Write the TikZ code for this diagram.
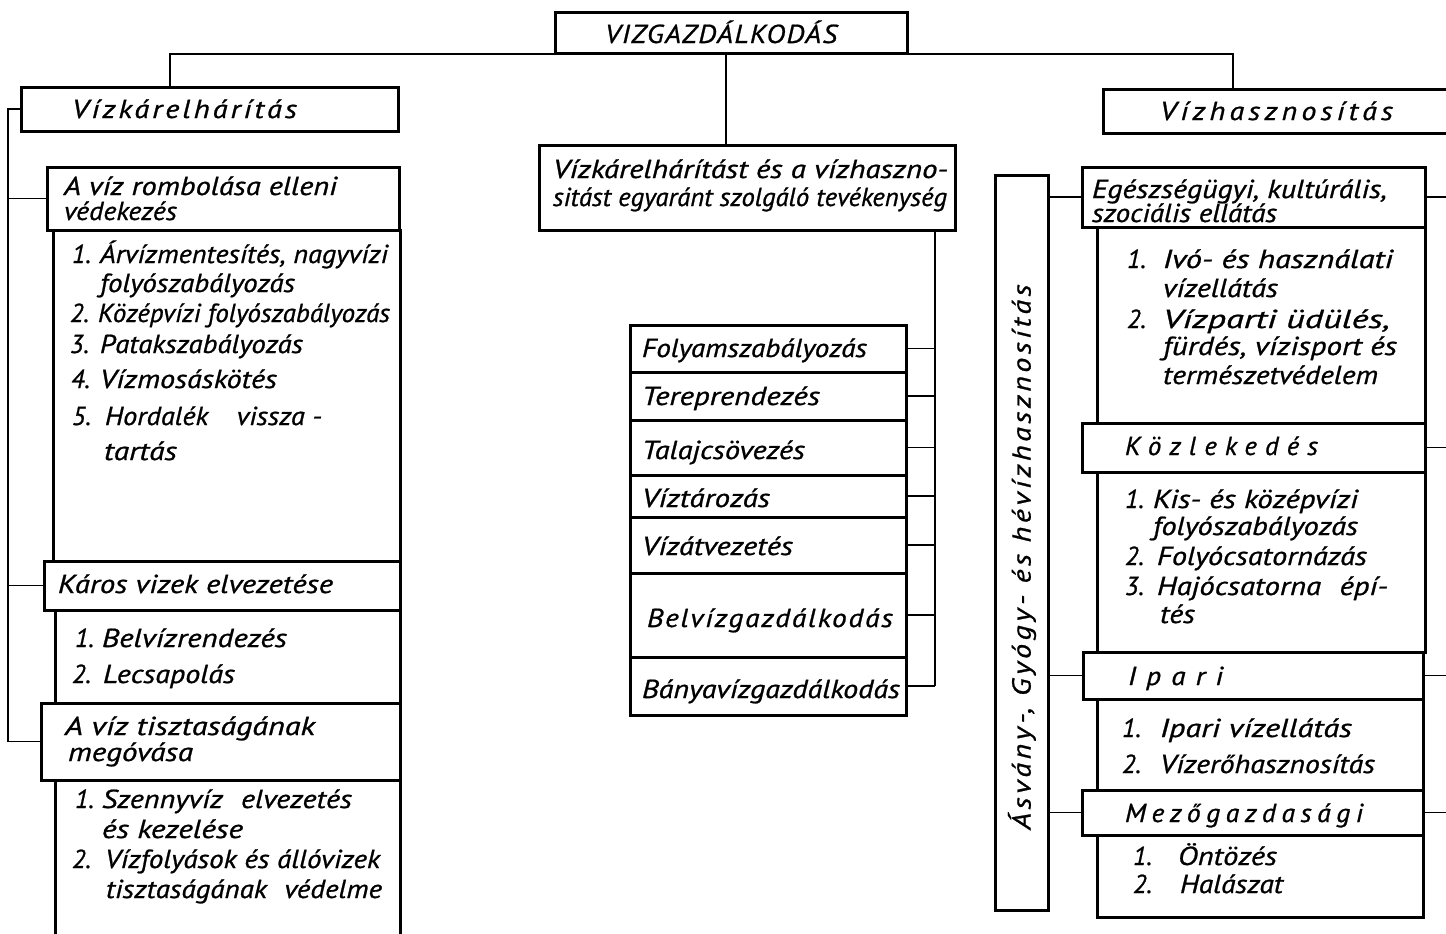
\documentclass[tikz,border=0pt]{standalone}
\usepackage{fontspec}
\usepackage{graphicx}
\usetikzlibrary{fit}
\newfontfamily\hand{PT Sans Italic}[FakeBold=0.8]
\newcommand\hf{\hand\fontsize{13}{15}\selectfont}
\newdimen\upx \upx=0.5pt
\newcommand\W[2]{\resizebox{#1\upx}{\height}{#2}}
\newcommand\LSW[3]{\resizebox{#2\upx}{\height}{\addfontfeatures{LetterSpace=#1}#3}}
\newcommand\txt[5]{\node[lbl] (#1) at (#2,#3) {\W{#4}{#5}};}
\newcommand\stx[6]{\node[lbl] (#1) at (#2,#3) {\LSW{#4}{#5}{#6}};}
\newcommand\itm[7]{\node[lbl] (#1n) at (#2,#4) {#5}; \node[lbl] (#1) at (#3,#4) {\W{#7}{#6}};}
\newcommand\bx[5]{\node[box, fit={(#2,#3)(#4,#5)}] (#1) {};}
\begin{document}
\begin{tikzpicture}[x=0.5pt,y=-0.5pt,
  box/.style={draw,line width=1.5pt,inner sep=0pt,outer sep=0pt},
  lbl/.style={anchor=base west,inner sep=0pt,outer sep=0pt,font=\hf},
  conn/.style={line width=0.75pt}]
\useasboundingbox (0,0) rectangle (1446,933);
\fill[white] (0,0) rectangle (1446,933);
\clip (0,0) rectangle (1446,933);

% ---------- boxes ----------
\bx{top}{555}{12}{907}{53}
\bx{vk}{21}{87}{398}{131}
\bx{l1}{53}{230}{400}{561}
\bx{romb}{47}{167}{399}{230}
\bx{l2}{55}{610}{400}{703}
\bx{karos}{44}{561}{400}{610}
\node[inner sep=0pt,outer sep=0pt,fit={(55,780)(400,945)}] (l3) {};
\draw[line width=1.5pt] (l3.north west) -- (l3.south west) (l3.north east) -- (l3.south east);
\bx{tisz}{41}{703}{400}{780}

\bx{mid}{539}{145}{955}{230}
\bx{s1}{630}{325}{906}{372}
\bx{s2}{630}{372}{906}{420}
\bx{s3}{630}{420}{906}{475}
\bx{s4}{630}{475}{906}{517}
\bx{s5}{630}{517}{906}{573}
\bx{s6}{630}{573}{906}{657}
\bx{s7}{630}{657}{906}{715}

\bx{hasz}{1103}{89}{1470}{133}
\bx{vb}{995}{175}{1048}{910}
\bx{r1}{1097}{227}{1425}{423}
\bx{r2}{1097}{472}{1425}{652}
\bx{r3}{1097}{699}{1423}{790}
\bx{r4}{1097}{835}{1423}{917}
\bx{eg}{1082}{167}{1425}{227}
\bx{kz}{1082}{423}{1425}{472}
\bx{ip}{1083}{652}{1423}{699}
\bx{mz}{1082}{790}{1423}{835}

% ---------- connectors ----------
\coordinate (tl) at (170,54);
\coordinate (tr) at (1233,54);
\coordinate (tc) at (726,54);
\draw[conn] (vk.north -| tl) -- (tl) -- (tr) -- (hasz.north -| tr);
\draw[conn] (tc) -- (mid.north -| tc);

\coordinate (bus) at (8,0);
\draw[conn] (vk.west) -- (vk.west -| bus) -- (tisz.west -| bus) -- (tisz.west);
\draw[conn] (romb.west) -- (romb.west -| bus);
\draw[conn] (karos.west) -- (karos.west -| bus);

\coordinate (mv) at (935,0);
\draw[conn] (mid.south -| mv) -- (s7.east -| mv);
\foreach \s in {s1,s2,s3,s4,s5,s6,s7} \draw[conn] (\s.east) -- (\s.east -| mv);

\foreach \n in {eg,ip,mz} \draw[conn] (vb.east |- \n.west) -- (\n.west);
\coordinate (edge) at (1446,0);
\foreach \n in {eg,kz,ip,mz} \draw[conn] (\n.east) -- (\n.east -| edge);

% ---------- texts: centre ----------
\stx{ttop}{605}{43}{5}{232}{VIZGAZDÁLKODÁS}
\txt{tmid1}{553}{178}{395}{Vízkárelhárítást és a vízhaszno-}
\txt{tmid2}{553}{206}{394}{sitást egyaránt szolgáló tevékenység}
\txt{ts1}{642}{357}{225}{Folyamszabályozás}
\txt{ts2}{642}{405}{178}{Tereprendezés}
\txt{ts3}{642}{459}{163}{Talajcsövezés}
\txt{ts4}{642}{507}{128}{Víztározás}
\txt{ts5}{642}{555}{151}{Vízátvezetés}
\stx{ts6}{647}{627}{6}{246}{Belvízgazdálkodás}
\txt{ts7}{642}{698}{258}{Bányavízgazdálkodás}

% ---------- texts: left ----------
\stx{tvk}{72}{118}{10}{225}{Vízkárelhárítás}
\txt{tromb1}{64}{195}{273}{A víz rombolása elleni}
\txt{tromb2}{64}{220}{113}{védekezés}
\itm{a1}{72}{100}{263}{1.}{Árvízmentesítés, nagyvízi}{288}
\txt{a1b}{100}{292}{195}{folyószabályozás}
\itm{a2}{70}{98}{322}{2.}{Középvízi folyószabályozás}{292}
\itm{a3}{70}{100}{353}{3.}{Patakszabályozás}{203}
\itm{a4}{71}{100}{388}{4.}{Vízmosáskötés}{177}
\itm{a5}{72}{105}{425}{5.}{Hordalék\hspace{1em}vissza -}{217}
\txt{a5b}{104}{460}{73}{tartás}
\txt{tkaros}{58}{593}{275}{Káros vizek elvezetése}
\itm{b1}{75}{102}{647}{1.}{Belvízrendezés}{185}
\itm{b2}{72}{103}{683}{2.}{Lecsapolás}{132}
\txt{ttisz1}{65}{735}{250}{A víz tisztaságának}
\txt{ttisz2}{68}{761}{125}{megóvása}
\itm{c1}{75}{102}{808}{1.}{Szennyvíz\hspace{0.6em}elvezetés}{250}
\txt{c1b}{102}{838}{141}{és kezelése}
\itm{c2}{72}{105}{868}{2.}{Vízfolyások és állóvizek}{275}
\txt{c2b}{106}{898}{276}{tisztaságának\hspace{0.6em}védelme}

% ---------- texts: right ----------
\stx{thasz}{1160}{120}{14}{233}{Vízhasznosítás}
\node[font=\hf,rotate=90,inner sep=0pt] (trot) at (1022,557) {\LSW{12}{545}{Ásvány-, Gyógy- és hévízhasznosítás}};
\txt{teg1}{1092}{198}{295}{Egészségügyi, kultúrális,}
\txt{teg2}{1092}{222}{185}{szociális ellátás}
\itm{d1}{1127}{1163}{268}{1.}{Ivó- és használati}{230}
\txt{d1b}{1163}{297}{115}{vízellátás}
\itm{d2}{1127}{1163}{328}{2.}{Vízparti üdülés,}{227}
\txt{d2b}{1163}{355}{234}{fürdés, vízisport és}
\txt{d2c}{1163}{384}{215}{természetvédelem}
\stx{tkz}{1125}{455}{30}{193}{Közlekedés}
\itm{e1}{1125}{1153}{508}{1.}{Kis- és középvízi}{205}
\txt{e1b}{1153}{535}{205}{folyószabályozás}
\itm{e2}{1125}{1157}{565}{2.}{Folyócsatornázás}{210}
\itm{e3}{1125}{1157}{595}{3.}{Hajócsatorna\hspace{0.6em}épí-}{231}
\txt{e3b}{1160}{623}{35}{tés}
\stx{tip}{1128}{685}{35}{95}{Ipari}
\itm{f1}{1122}{1160}{737}{1.}{Ipari vízellátás}{192}
\itm{f2}{1122}{1160}{773}{2.}{Vízerőhasznosítás}{215}
\stx{tmz}{1125}{822}{20}{238}{Mezőgazdasági}
\itm{g1}{1133}{1178}{865}{1.}{Öntözés}{99}
\itm{g2}{1133}{1180}{893}{2.}{Halászat}{103}
\end{tikzpicture}
\end{document}
